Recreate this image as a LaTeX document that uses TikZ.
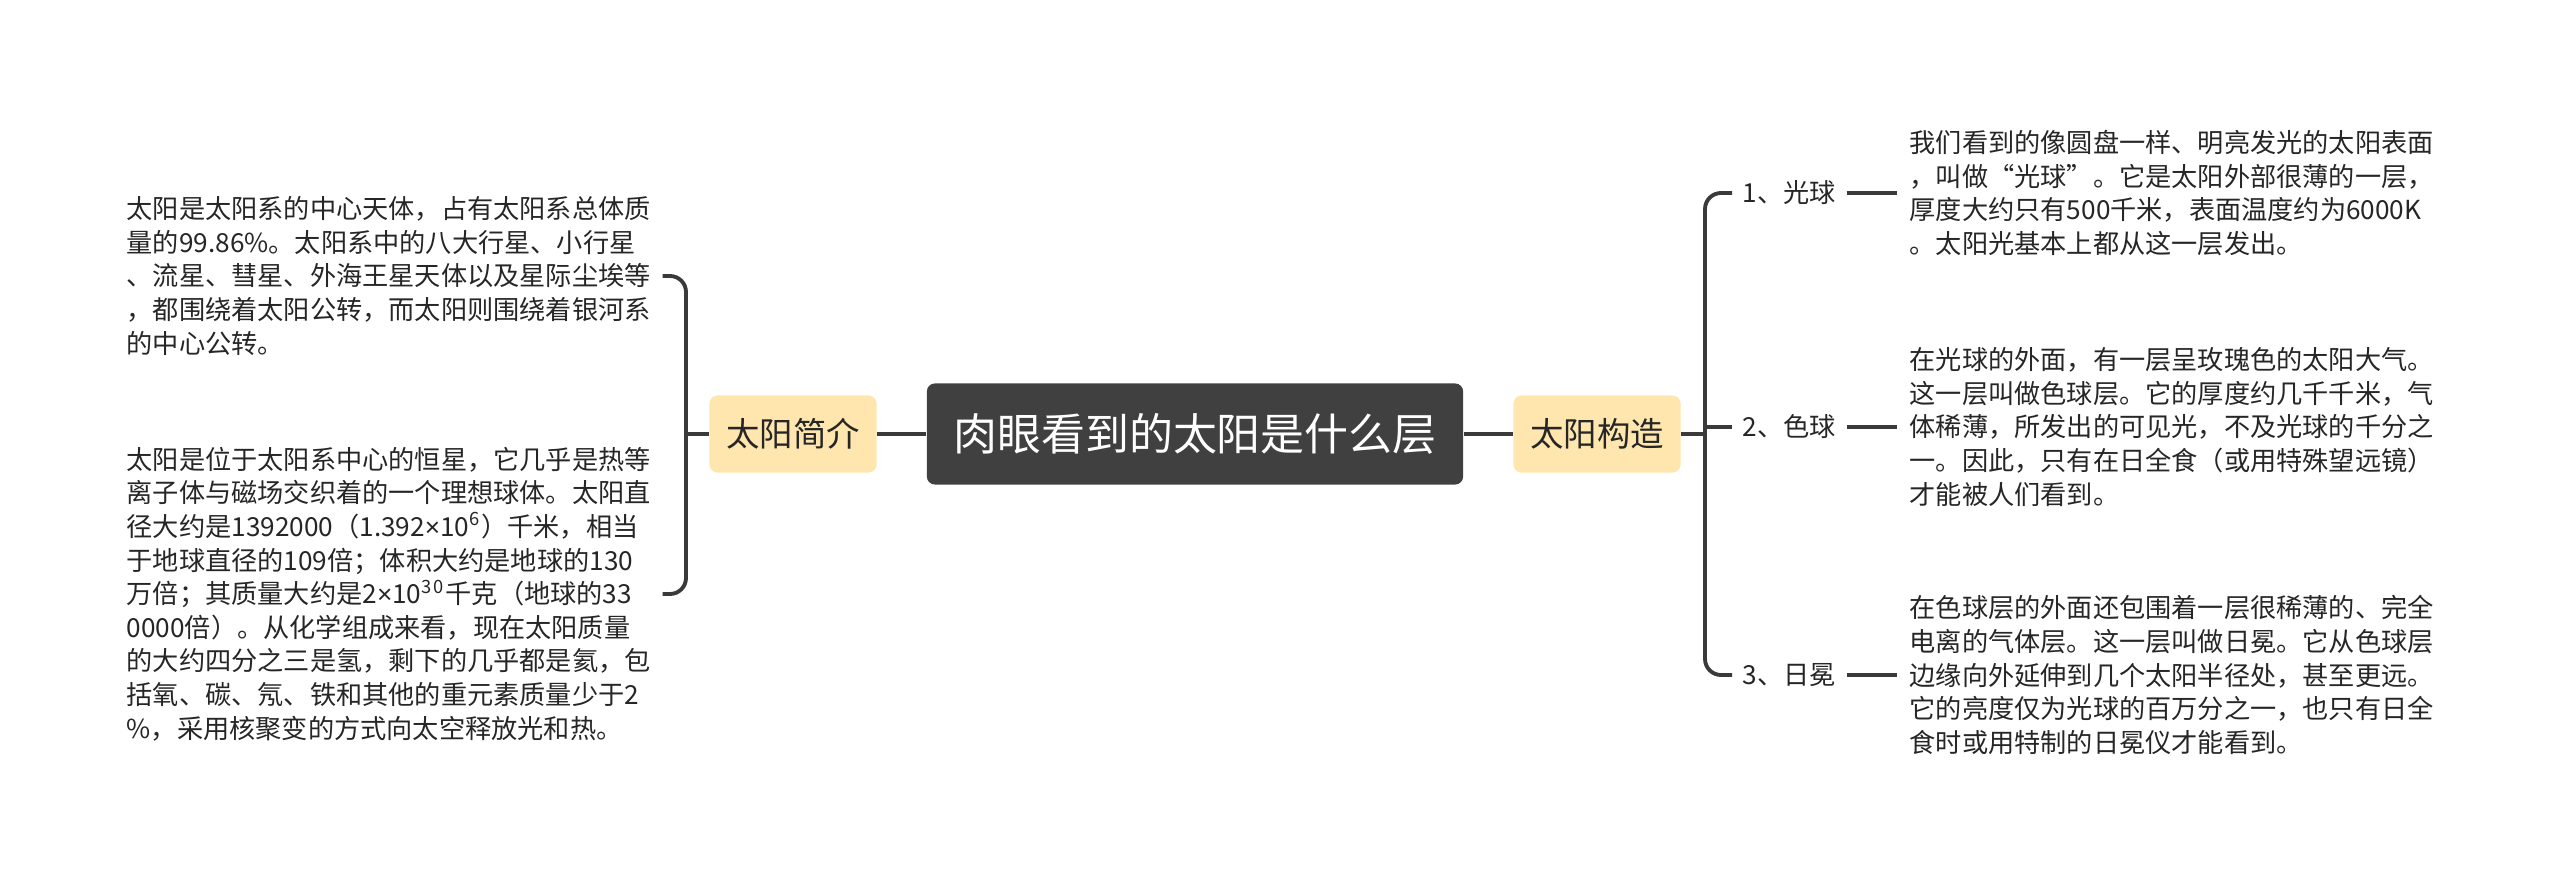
\documentclass[tikz,border=0pt]{standalone}
\usepackage{fontspec}
\setmainfont{Noto Sans CJK SC}
\newfontfamily\lat{Liberation Sans}
\definecolor{dunkel}{HTML}{404040}
\definecolor{gelb}{HTML}{FEE6AE}
\definecolor{linie}{HTML}{3A3A3A}
\definecolor{schrift}{HTML}{262626}
\def\zweig#1#2{\draw[ast] #1 -- #2;}
\def\mal{{\lat ×}}
\tikzset{
  ast/.style={draw=linie,line width=1.1pt},
  maintopic/.style={fill=dunkel,rounded corners=0.08cm,minimum width=5.36cm,minimum height=1.01cm,text=white,font=\fontsize{12.5}{15}\selectfont},
  subtopic/.style={fill=gelb,rounded corners=0.08cm,minimum width=1.67cm,minimum height=0.77cm,text=schrift,font=\fontsize{9.5}{12}\selectfont},
  note/.style={anchor=west,align=left,inner xsep=0.12cm,inner ysep=0pt,text width=5.23cm,text=schrift,font=\fontsize{7.45}{9.56}\selectfont},
  itemlbl/.style={anchor=west,inner xsep=0.1cm,text=schrift,font=\fontsize{7.45}{9.56}\selectfont},
}
\begin{document}
\begin{tikzpicture}[x=0.01cm,y=-0.01cm]
\useasboundingbox (0,0) rectangle (2560,885);
\coordinate (M) at (1195,434);
\coordinate (LB) at (686,434);
\coordinate (RB) at (1705,434);
\node[maintopic] (haupt) at (M) {肉眼看到的太阳是什么层};
\node[subtopic] (intro) at (793,434) {太阳简介};
\node[subtopic] (bau) at (1597,434) {太阳构造};
\node[note] (intro1) at (114,276) {太阳是太阳系的中心天体，占有太阳系总体质\\
量的99.86\%。太阳系中的八大行星、小行星\\
、流星、彗星、外海王星天体以及星际尘埃等\\
，都围绕着太阳公转，而太阳则围绕着银河系\\
的中心公转。};
\node[note] (intro2) at (114,594) {太阳是位于太阳系中心的恒星，它几乎是热等\\
离子体与磁场交织着的一个理想球体。太阳直\\
径大约是1392000（1.392\mal 10\textsuperscript{6}）千米，相当\\
于地球直径的109倍；体积大约是地球的130\\
万倍；其质量大约是2\mal 10\textsuperscript{3\kern0.6pt0}千克（地球的33\\
0000倍）。从化学组成来看，现在太阳质量\\
的大约四分之三是氢，剩下的几乎都是氦，包\\
括氧、碳、氖、铁和其他的重元素质量少于2\\
\%，采用核聚变的方式向太空释放光和热。};
\node[itemlbl] (l1) at (1732,193) {1、光球};
\node[itemlbl] (l2) at (1732,427) {2、色球};
\node[itemlbl] (l3) at (1732,675) {3、日冕};
\node[note] (t1) at (1897,193) {我们看到的像圆盘一样、明亮发光的太阳表面\\
，叫做“光球”。它是太阳外部很薄的一层，\\
厚度大约只有500千米，表面温度约为6000K\\
。太阳光基本上都从这一层发出。};
\node[note] (t2) at (1897,427) {在光球的外面，有一层呈玫瑰色的太阳大气。\\
这一层叫做色球层。它的厚度约几千千米，气\\
体稀薄，所发出的可见光，不及光球的千分之\\
一。因此，只有在日全食（或用特殊望远镜）\\
才能被人们看到。};
\node[note] (t3) at (1897,675) {在色球层的外面还包围着一层很稀薄的、完全\\
电离的气体层。这一层叫做日冕。它从色球层\\
边缘向外延伸到几个太阳半径处，甚至更远。\\
它的亮度仅为光球的百万分之一，也只有日全\\
食时或用特制的日冕仪才能看到。};
\zweig{(haupt.west)}{(intro.east)}
\zweig{(haupt.east)}{(bau.west)}
\zweig{(intro.west)}{(LB)}
\zweig{(bau.east)}{(RB)}
\draw[ast,rounded corners=0.16cm] (intro1.east) -| (LB) |- (intro2.east);
\draw[ast,rounded corners=0.16cm] (l1.west) -| (RB) |- (l3.west);
\zweig{(l2.west -| RB)}{(l2.west)}
\zweig{(l1.east)}{(t1.west)}
\zweig{(l2.east)}{(t2.west)}
\zweig{(l3.east)}{(t3.west)}
\end{tikzpicture}
\end{document}
